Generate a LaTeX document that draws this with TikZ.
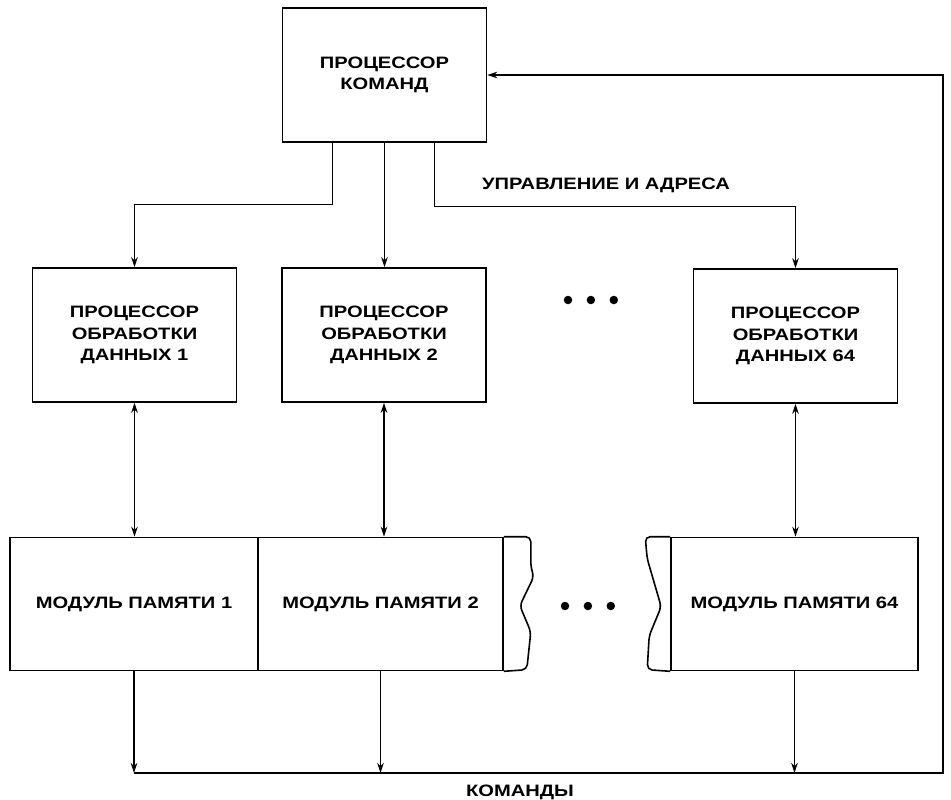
\documentclass[tikz,border=0pt]{standalone}
\usepackage{fontspec}
\newfontfamily\diafont{Liberation Sans}[FakeStretch=1.22]
\usepackage{tikz}
\usetikzlibrary{arrows.meta,positioning,calc}
\tikzset{
  procbox/.style={draw, line width=1.6pt, align=center,
                  minimum width=204pt, minimum height=134pt, inner sep=0pt,
                  font={\diafont\bfseries\fontsize{16.5}{21.5}\selectfont}},
  membox/.style ={procbox, minimum height=133pt},
  edge/.style   ={line width=1.6pt, rounded corners=5pt},
  lbl/.style    ={inner sep=0pt, font={\diafont\bfseries\fontsize{16.5}{18}\selectfont}},
  arr/.style    ={-{Stealth[length=10pt,width=6.5pt]}, line width=1.1pt},
  biarr/.style  ={{Stealth[length=10pt,width=6.5pt]}-{Stealth[length=10pt,width=6.5pt]}, line width=1.1pt},
  dot/.style    ={circle, fill, inner sep=0pt, minimum size=8.5pt},
}

\begin{document}
\begin{tikzpicture}[x=1pt,y=-1pt]
  \useasboundingbox (0,0) rectangle (951,800);
  % processors
  \node[procbox] (cmd)  at (384.5,75)  {ПРОЦЕССОР\\КОМАНД};
  \node[procbox] (dp1)  at (134.5,335) {ПРОЦЕССОР\\ОБРАБОТКИ\\ДАННЫХ 1};
  \node[procbox] (dp2)  at (384,335)   {ПРОЦЕССОР\\ОБРАБОТКИ\\ДАННЫХ 2};
  \node[procbox] (dp64) at (795.5,336) {ПРОЦЕССОР\\ОБРАБОТКИ\\ДАННЫХ 64};
  % memory modules
  \node[membox, minimum width=248pt] (mem1)  at (134,604)   {МОДУЛЬ ПАМЯТИ 1};
  \node[membox, minimum width=245pt] (mem2)  at (380.5,604) {МОДУЛЬ ПАМЯТИ 2};
  \node[membox, minimum width=247pt] (mem64) at (794.5,604) {МОДУЛЬ ПАМЯТИ 64};
  \draw[edge] (mem2.north east) -- ++(27,0) -- ++(0,30) -- ++(3,10) -- ++(-14,29)
              -- ++(11,26) -- ++(-4,38) -- (mem2.south east);
  \draw[edge] (mem64.north west) -- ++(-25,0) -- ++(2,22) -- ++(14,48) -- ++(-12,29)
              -- ++(-2,34) -- (mem64.south west);
  % dots
  \node[dot] (u1) at (568,300) {};
  \node[dot, right=14pt of u1] (u2) {};
  \node[dot, right=14pt of u2] (u3) {};
  \node[dot] (l1) at (565,606) {};
  \node[dot, right=14pt of l1] (l2) {};
  \node[dot, right=14pt of l2] (l3) {};
  % control and addresses
  \draw[arr] ([xshift=-52pt]cmd.south) -- ++(0,62) -| (dp1.north);
  \draw[arr] (cmd.south) -- (cmd.south |- dp2.north);
  \draw[arr] ([xshift=50pt]cmd.south) -- ++(0,64) -| (dp64.north);
  \node[lbl] (ctl) at (606,185) {УПРАВЛЕНИЕ И АДРЕСА};
  % processor <-> memory
  \draw[biarr] (dp1.south)  -- (dp1.south |- mem1.north);
  \draw[biarr] (dp2.south)  -- (dp2.south |- mem2.north);
  \draw[biarr] (dp64.south) -- (dp64.south |- mem64.north);
  % instructions bus
  \coordinate (busR) at (943,773);
  \draw[arr] (mem1.south)  -- (mem1.south |- busR);
  \draw[arr] (mem2.south)  -- (mem2.south |- busR);
  \draw[arr] (mem64.south) -- (mem64.south |- busR);
  \draw[arr] (mem1.south |- busR) -- (busR) |- (cmd.east);
  \node[lbl] (cmds) at (520,792) {КОМАНДЫ};
\end{tikzpicture}
\end{document}
